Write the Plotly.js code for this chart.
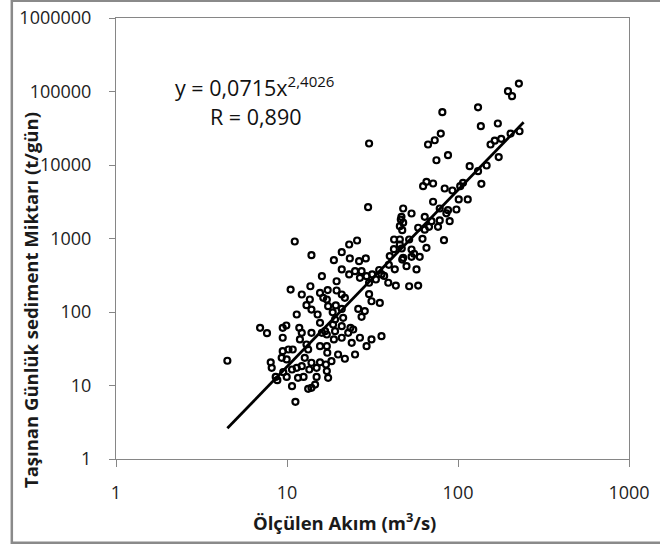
<!DOCTYPE html>
<html>
<head>
<meta charset="utf-8">
<script src="https://cdn.plot.ly/plotly-3.0.1.min.js"></script>
<style>
html,body{margin:0;padding:0;background:#fff;}
#chart{width:660px;height:544px;}
</style>
</head>
<body>
<div id="chart"></div>
<script>
// ---- data (Ölçülen Akım m3/s vs. sediment t/gün) ----
var flowHigh = [227,196,207,131,81,136,171,229,203,79.3,73.1,66.8,155,164,179,173,87.4,74.8,117,147,131,137,30.2];
var sedHigh  = [128000,101000,86300,61000,52300,33700,36700,28800,26800,26800,21700,19000,19000,21400,22700,12800,13600,11600,9630,9840,8240,5550,19600];

var flowMid = [62.5,65.4,71.5,83.6,92.7,103,107,101,114,71.5,78.2,87.4,97.9,89.4,85.5,53.5,47.8,46.7,47.8,63.9,70,78.2,76.4,67.7,58.5,63.9,62,82.8,65.4,53.5,47.8,53.5,59.7,50,57.2,45.7,46.3,45.7,42.3,45.7,46.9,51.8,47.2,42.2,55.4,47.2,39.9,42.7,39.4,34.6,37,29.8];
var sedMid  = [5150,5900,5600,4790,4500,5150,5730,3400,3400,3160,2560,2430,2480,1720,2200,2190,2560,1970,1640,1970,1720,1760,1440,1440,1400,1320,991,948,747,708,546,564,564,420,379,829,1810,1470,969,969,731,969,1300,715,620,517,576,381,439,373,310,2670];

var flowCore = [25.7,23.1,20.9,18.8,23.3,26.4,28.9,20.9,23.1,25,27.3,26.7,29.2,31.5,30.2,33.1,35.7,39.1,43.3,51.8,58.5,19.5,19.5,20.9,21.8,31.2,34.9,26.1,28.5,27.3,17.1,17.4,19.3,18.5,20.9,16,16.3,19.1,21.3,20.9,23.5,22.8,24.4,18.6,19.1,16.7,18.8,20.9,23.9,26.7,29.2,31.2,35.7,17.1,17.2,19.9,21.8,25,18.2,16.9,17.1,17.4,30.2,17.3,13.7,13.9,11.1];
var sedCore  = [940,829,651,507,535,491,535,379,324,359,359,292,307,324,250,277,324,250,229,224,229,262,196,173,156,140,133,110,103,86,148,120,123,99,110,307,156,79,83.4,64.1,61,52.1,57.8,67.6,54.8,54.8,42.3,44.6,38.1,44.6,34.3,42.3,46.9,34.3,27.9,26.4,23.1,26.4,21.4,19.3,15.7,12.7,175,199,224,593,910];

var flowLow = [4.48,6.96,7.64,8.03,8.14,8.59,8.78,11.2,9.44,9.91,9.44,9.44,10.2,9.31,9.96,10.8,11.4,10.5,12.2,13,13.9,15.1,13.6,15.6,11.8,12.2,11.9,13,13.9,15.6,16,17.1,15.6,13.3,12.7,12.2,11.4,10.7,9.51,9.96,10.7,11.6,12.5,13.3,13.9,14.6,14.9,15.6,14.9,13.9,13.5];
var sedLow  = [21.7,61,51.5,20.7,17.4,13.1,11.8,6.0,61,65.5,44.6,29.3,30.9,23.8,22.6,30.9,92.5,202,173,124,108,92.5,148,182,61,52.1,42.3,36.1,52.1,71.3,52.1,49.4,34.3,30.9,23.8,18.3,17.4,16.5,15.2,13.1,9.8,12.7,13.1,9.02,9.3,10.3,13.1,20.7,17.4,20.4,16.5];

// power trend line end points (y = 0,0715x^2,4026) as drawn in the picture
var trendFlow = [4.48, 242];
var trendSed  = [2.62, 38200];

var xTickVals = [1, 10, 100, 1000];
var xTickText = ['1', '10', '100', '1000'];
var yTickVals = [1, 10, 100, 1000, 10000, 100000, 1000000];
var yTickText = ['1', '10', '100', '1000', '10000', '100000', '1000000'];

var flowAll = flowHigh.concat(flowMid, flowCore, flowLow);
var sedAll  = sedHigh.concat(sedMid, sedCore, sedLow);

var axisGrey = '#868686';
var tickFont = {family: 'Open Sans, sans-serif', size: 18, color: '#222'};

var traces = [
  {
    x: flowAll, y: sedAll, type: 'scatter', mode: 'markers',
    marker: {symbol: 'circle-open', size: 6, color: '#000', line: {width: 2.2, color: '#000'}},
    hoverinfo: 'x+y', showlegend: false
  },
  {
    x: trendFlow, y: trendSed, type: 'scatter', mode: 'lines',
    line: {color: '#000', width: 2.75},
    hoverinfo: 'skip', showlegend: false
  }
];

var layout = {
  width: 660, height: 544,
  margin: {l: 116, r: 31, t: 18, b: 85, pad: 0},
  paper_bgcolor: '#fff', plot_bgcolor: '#fff',
  showlegend: false,
  xaxis: {
    type: 'log', range: [0, 3],
    tickvals: xTickVals, ticktext: xTickText,
    ticks: 'outside', ticklen: 7, tickcolor: axisGrey, tickwidth: 1,
    showline: true, linecolor: axisGrey, linewidth: 1, mirror: true,
    showgrid: false, zeroline: false,
    tickfont: tickFont, ticklabelstandoff: 10
  },
  yaxis: {
    type: 'log', range: [0, 6],
    tickvals: yTickVals, ticktext: yTickText,
    ticks: 'outside', ticklen: 6, tickcolor: axisGrey, tickwidth: 1,
    showline: true, linecolor: axisGrey, linewidth: 1, mirror: true,
    showgrid: false, zeroline: false,
    tickfont: tickFont, ticklabelstandoff: 14
  },
  shapes: [
    {type: 'rect', xref: 'paper', yref: 'paper',
     x0: -0.2031, x1: 1.12, y0: -0.190, y1: 1.039,
     line: {color: '#8a8a8a', width: 2.5}, fillcolor: 'rgba(0,0,0,0)', layer: 'above'}
  ],
  annotations: [
    {text: '<b>Taşınan Günlük sediment Miktarı (t/gün)</b>', xref: 'paper', yref: 'paper',
     x: -0.1676, y: 0.3605, xanchor: 'center', yanchor: 'middle', textangle: -90, showarrow: false,
     font: {family: 'Open Sans, sans-serif', size: 18.5, color: '#1a1a1a'}},
    {text: '<b>Ölçülen Akım (m<sup>3</sup>/s)</b>', xref: 'paper', yref: 'paper',
     x: 0.4458, y: -0.1406, xanchor: 'center', yanchor: 'middle', showarrow: false,
     font: {family: 'Open Sans, sans-serif', size: 18.5, color: '#1a1a1a'}},
    {text: 'y = 0,0715x<sup>2,4026</sup>', xref: 'paper', yref: 'paper',
     x: 0.2700, y: 0.8442, xanchor: 'center', yanchor: 'middle', showarrow: false,
     font: {family: 'Open Sans, sans-serif', size: 21.5, color: '#111'}},
    {text: 'R = 0,890', xref: 'paper', yref: 'paper',
     x: 0.2729, y: 0.7762, xanchor: 'center', yanchor: 'middle', showarrow: false,
     font: {family: 'Open Sans, sans-serif', size: 21.5, color: '#111'}}
  ]
};

Plotly.newPlot('chart', traces, layout, {displayModeBar: false, staticPlot: true});
</script>
</body>
</html>
